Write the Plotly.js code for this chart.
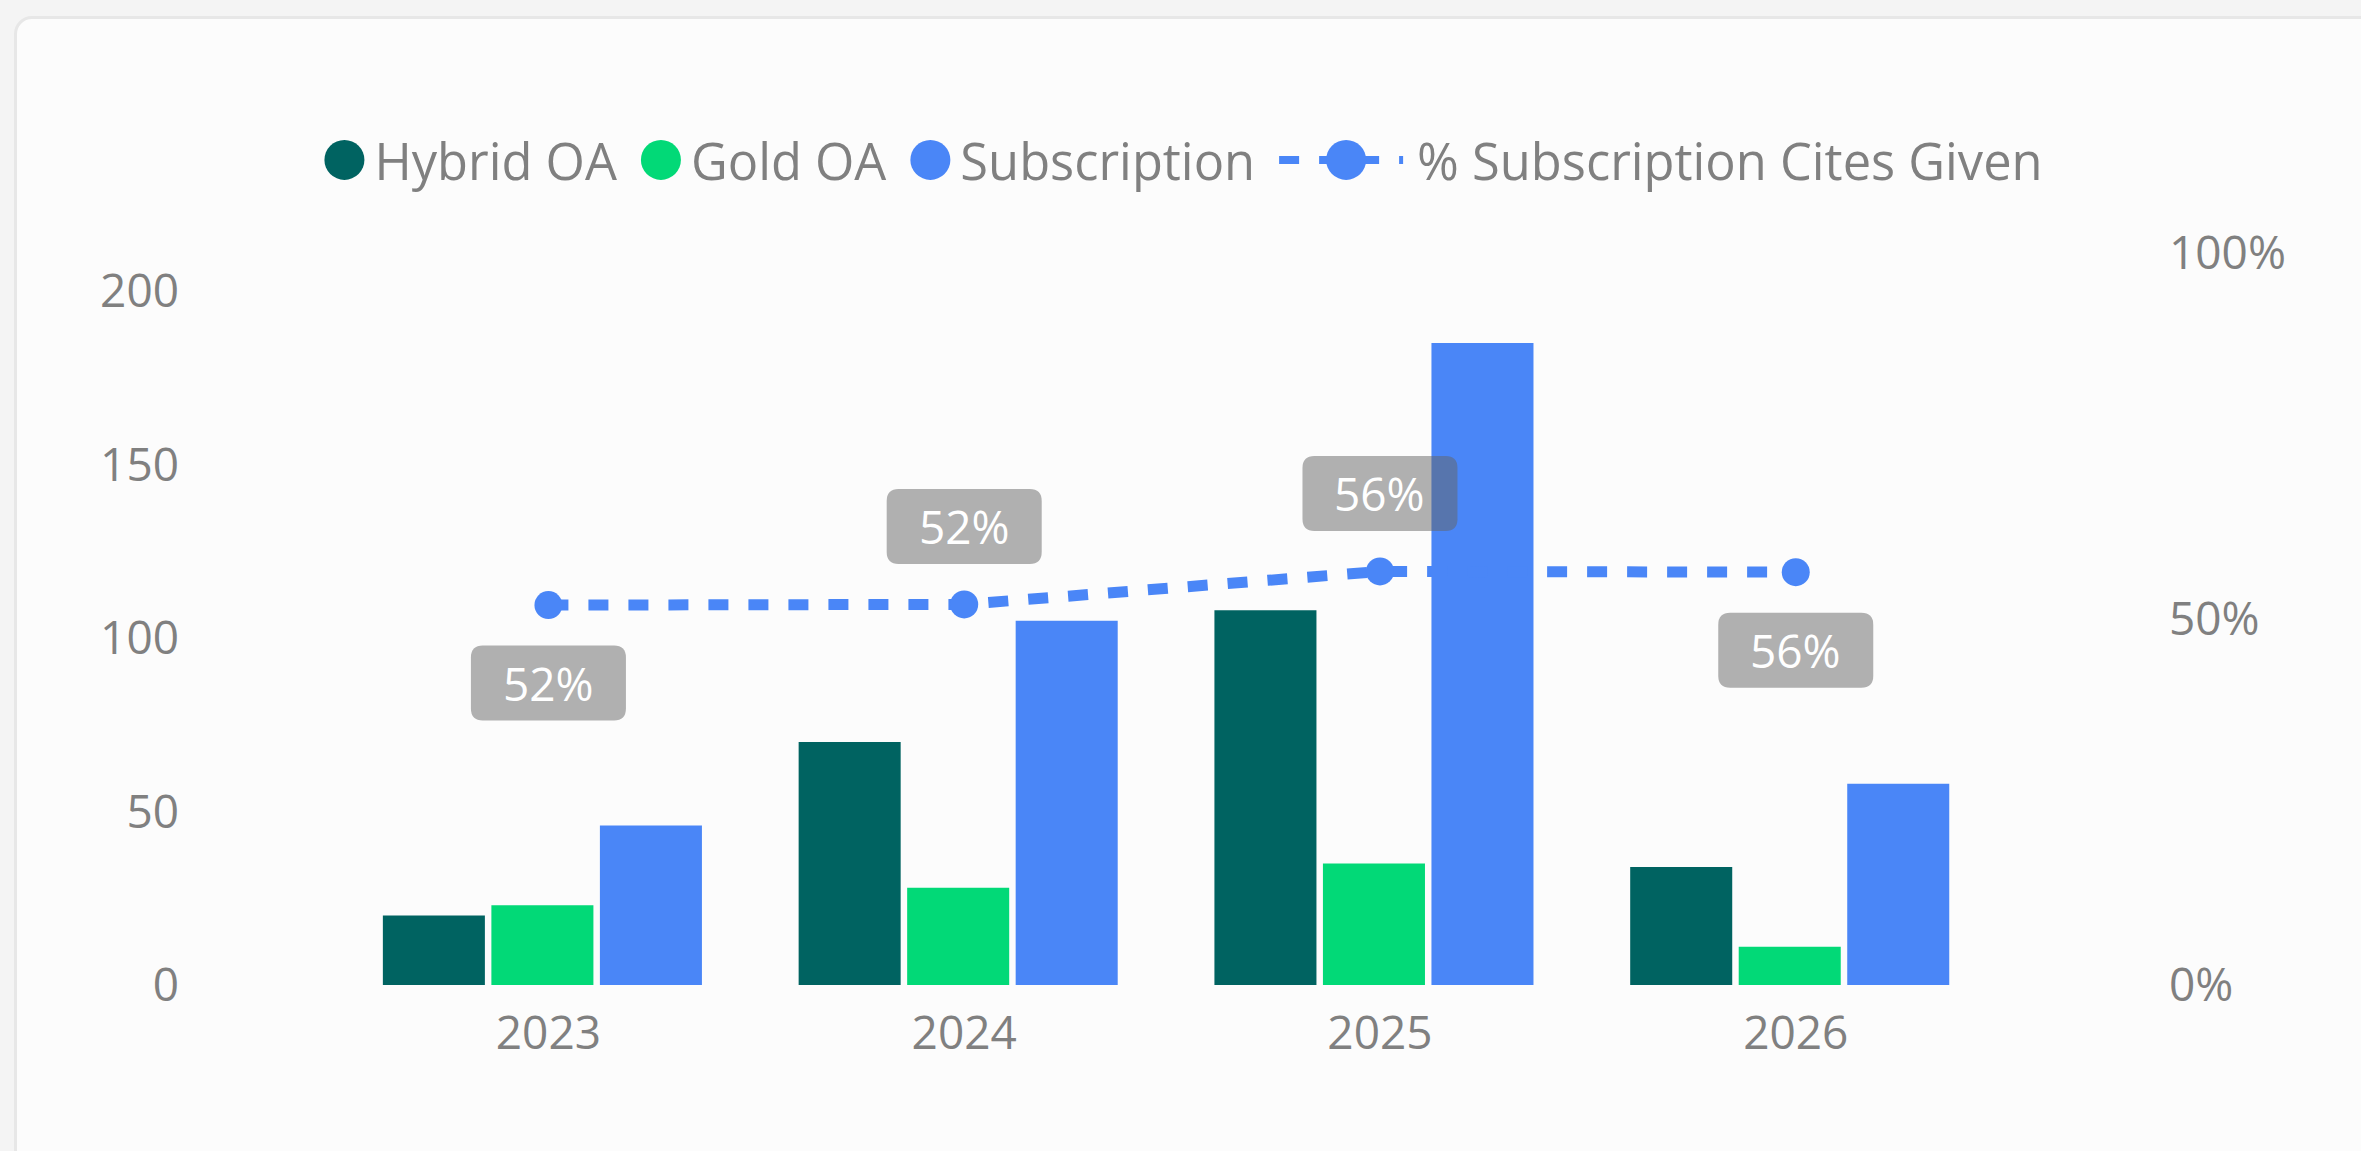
<!DOCTYPE html>
<html><head><meta charset="utf-8">
<script src="https://cdn.plot.ly/plotly-3.0.1.min.js"></script>
<style>
html,body{margin:0;padding:0;background:#f4f4f4;width:2361px;height:1151px;overflow:hidden;}
#card{position:absolute;left:14px;top:16px;width:2420px;height:1220px;background:#fcfcfc;border:3px solid #e7e7e7;border-radius:18px;box-sizing:border-box;}
#chart{position:absolute;left:0;top:0;width:2361px;height:1151px;}
#dbg{position:absolute;left:20px;bottom:10px;font:20px sans-serif;color:red;}
</style></head><body>
<div id="card"></div><div id="chart"></div><div id="dbg"></div>
<script>
const years = ['2023', '2024', '2025', '2026'];
const hybridOA = [20, 70, 108, 34];
const goldOA = [23, 28, 35, 11];
const subscription = [46, 105, 185, 58];
const pctSubCites = [0.519, 0.52, 0.565, 0.564];
const pctLabels = ['52%', '52%', '56%', '56%'];
const labelSide = [-1, 1, 1, -1];   // -1 below the point, 1 above

const C_HYB = '#006361', C_GOLD = '#02D977', C_SUB = '#4A86F7';
const FONT = 'Segoe UI, Open Sans, sans-serif';
const GREY = '#808080';

// bar layout within a category (in category units): slot pitch, bar width, slight left shift of the group
const SLOT = 0.261, BAR_W = 0.2454, GROUP_SHIFT = -0.0145;
function bar(name, y, color, k) {
  return {type: 'bar', name: name, x: years, y: y, marker: {color: color}, showlegend: false,
          width: BAR_W, offset: -1.5 * SLOT + (SLOT - BAR_W) / 2 + GROUP_SHIFT + k * SLOT,
          legendgroup: name, hoverinfo: 'x+y'};
}
function legendDot(name, color) {
  return {type: 'scatter', mode: 'markers', name: name, x: [null], y: [null],
          marker: {color: color, size: 28, symbol: 'circle'}, legendgroup: name, showlegend: true};
}

const traces = [
  bar('Hybrid OA', hybridOA, C_HYB, 0),
  bar('Gold OA', goldOA, C_GOLD, 1),
  bar('Subscription', subscription, C_SUB, 2),
  legendDot('Hybrid OA', C_HYB),
  legendDot('Gold OA', C_GOLD),
  legendDot('Subscription', C_SUB),
  {type: 'scatter', mode: 'lines+markers', name: '% Subscription Cites Given', x: years, y: pctSubCites,
   yaxis: 'y2', line: {color: C_SUB, width: 11, dash: '20px,20px'}, marker: {color: C_SUB, size: 28}}
];

const W = 155, H = 75, R = 12, OFF = 78;
function roundRectPath(cy) {
  const x0 = -W / 2, x1 = W / 2, y0 = cy - H / 2, y1 = cy + H / 2;
  return `M${x0 + R},${y0} L${x1 - R},${y0} Q${x1},${y0} ${x1},${y0 + R} L${x1},${y1 - R} Q${x1},${y1} ${x1 - R},${y1} ` +
         `L${x0 + R},${y1} Q${x0},${y1} ${x0},${y1 - R} L${x0},${y0 + R} Q${x0},${y0} ${x0 + R},${y0} Z`;
}
const shapes = years.map((yr, i) => ({
  type: 'path', xref: 'x', yref: 'y2', xsizemode: 'pixel', ysizemode: 'pixel',
  xanchor: i, yanchor: pctSubCites[i], path: roundRectPath(labelSide[i] * OFF),
  fillcolor: 'rgba(100,100,100,0.5)', line: {width: 0}, layer: 'above'
}));
const annotations = years.map((yr, i) => ({
  x: i, y: pctSubCites[i], xref: 'x', yref: 'y2', text: pctLabels[i], showarrow: false,
  xanchor: 'center', yanchor: 'middle',
  yshift: labelSide[i] * OFF, font: {family: FONT, size: 46, color: '#ffffff'}
}));

const layout = {
  width: 2361, height: 1151,
  paper_bgcolor: 'rgba(0,0,0,0)', plot_bgcolor: 'rgba(0,0,0,0)',
  margin: {l: 200, r: 211, t: 240, b: 166},
  font: {family: FONT, color: GREY, size: 46},
  barmode: 'group', bargap: 0.217, bargroupgap: 0.06,
  xaxis: {type: 'category', range: [-0.838, 3.852], showgrid: false, zeroline: false, showline: false,
          ticks: '', tickfont: {size: 46, color: GREY}, ticklabelstandoff: 17, fixedrange: true},
  yaxis: {range: [0, 214.7], dtick: 50, tick0: 0, showgrid: false, zeroline: false, showline: false,
          ticks: '', tickfont: {size: 46, color: GREY}, ticklabelstandoff: 20},
  yaxis2: {overlaying: 'y', side: 'right', range: [0, 1.0178], dtick: 0.5, tick0: 0, tickformat: '.0%',
           showgrid: false, zeroline: false, showline: false, ticks: '', tickfont: {size: 46, color: GREY},
           ticklabelstandoff: 18},
  legend: {orientation: 'h', xref: 'container', yref: 'container', x: 0.501, xanchor: 'center',
           y: 0.861, yanchor: 'middle', font: {size: 50.6, color: GREY}, itemsizing: 'trace',
           itemwidth: 50, tracegroupgap: 0, bgcolor: 'rgba(0,0,0,0)'},
  annotations: annotations,
  showlegend: true
};

function circ(cx, r) {
  return `M${cx + r},0A${r},${r} 0 1,1 ${cx},-${r}A${r},${r} 0 0,1 ${cx + r},0Z`;
}
function parseT(el) {
  const t = el.getAttribute('transform') || '';
  const m = t.match(/translate\(\s*([-\d.e]+)(?:[ ,]+([-\d.e]+))?/);
  return m ? [parseFloat(m[1]), parseFloat(m[2] || 0)] : [0, 0];
}
// Power BI style legend: large dots, long dashed line entry, even spacing, centred
function fixLegend(gd) {
  const leg = gd.querySelector('g.legend');
  if (!leg) return;
  leg.querySelectorAll('[clip-path]').forEach(e => e.removeAttribute('clip-path'));
  const items = Array.from(leg.querySelectorAll('g.traces'));
  const DOT_R = 20, LINE_LEN = 124, GAP = 24, CENTER = 1183.5;
  const ext = [];
  items.forEach(g => {
    const text = g.querySelector('text.legendtext');
    const tr = text.getBoundingClientRect();
    const line = g.querySelector('path.js-line');
    const pt = g.querySelector('.legendpoints path.scatterpts');
    let left;
    if (line) {
      const lr = line.getBoundingClientRect();
      const d = line.getAttribute('d');
      const m = d.match(/^M([-\d.e]+),([-\d.e]+)/);
      const x0 = parseFloat(m[1]), y0 = parseFloat(m[2]);
      const newStart = x0 + (tr.left - 14 - LINE_LEN - lr.left);
      line.setAttribute('d', `M${newStart},${y0}h${LINE_LEN}`);
      line.style.strokeWidth = '8px';
      left = tr.left - 14 - LINE_LEN;
      if (pt) {
        const pr = pt.getBoundingClientRect();
        const dx = (left + 67) - (pr.left + pr.width / 2);
        pt.setAttribute('d', circ(dx, DOT_R));
      }
    } else if (pt) {
      const pr = pt.getBoundingClientRect();
      const dx = (tr.left - 30) - (pr.left + pr.width / 2);
      pt.setAttribute('d', circ(dx, DOT_R));
      left = tr.left - 30 - DOT_R;
    }
    ext.push({g: g, left: left, right: tr.right});
  });
  const total = ext.reduce((s, e) => s + (e.right - e.left), 0) + GAP * (ext.length - 1);
  let cursor = CENTER - total / 2;
  ext.forEach(e => {
    const shift = cursor - e.left;
    const [tx, ty] = parseT(e.g);
    e.g.setAttribute('transform', `translate(${tx + shift},${ty})`);
    cursor += (e.right - e.left) + GAP;
  });
}

const gd = document.getElementById('chart');
Plotly.newPlot(gd, traces, layout, {displayModeBar: false, staticPlot: true})
  .then(() => Plotly.relayout(gd, {shapes: shapes}))
  .catch(err => { document.getElementById('dbg').textContent = 'ERR ' + err; })
  .then(() => {
    try { fixLegend(gd); } catch (e) { document.getElementById('dbg').textContent += ' LEG ' + e; }
    const n = gd.querySelectorAll('.annotation').length;
    if (n !== 4) document.getElementById('dbg').textContent += ' ann=' + n;
  });
</script>
</body></html>
